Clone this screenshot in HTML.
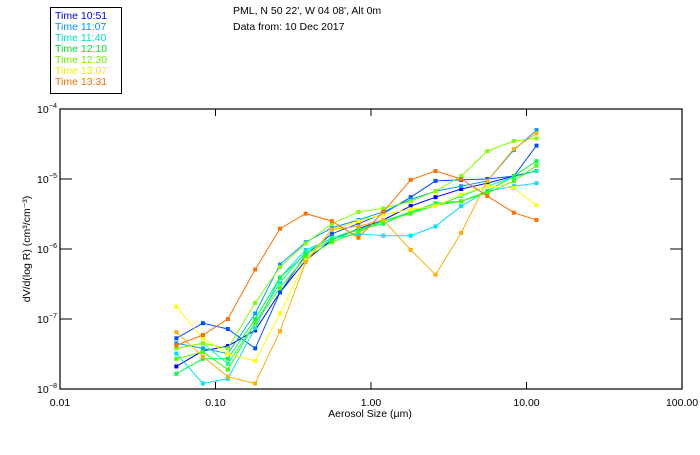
<!DOCTYPE html>
<html><head><meta charset="utf-8">
<style>
html,body{margin:0;padding:0;background:#fff;}
body{width:700px;height:450px;overflow:hidden;font-family:"Liberation Sans",sans-serif;}
svg text{font-family:"Liberation Sans",sans-serif;font-size:10.5px;}
</style></head>
<body>
<svg id="chart" width="700" height="450">
  <g>
    <rect x="50.5" y="7.5" width="71" height="86" fill="#fff" stroke="#000" stroke-width="1"/>
    <text x="55" y="19" fill="#0000ff">Time 10:51</text>
    <text x="55" y="30" fill="#0090ff">Time 11:07</text>
    <text x="55" y="41" fill="#00e0c0">Time 11:40</text>
    <text x="55" y="52" fill="#00e030">Time 12:10</text>
    <text x="55" y="63" fill="#70f000">Time 12:30</text>
    <text x="55" y="74" fill="#f0f000">Time 13:07</text>
    <text x="55" y="85" fill="#ff7000">Time 13:31</text>
  </g>
  <text x="233" y="14">PML, N 50 22', W 04 08', Alt 0m</text>
  <text x="233" y="30">Data from: 10 Dec 2017</text>
  <g id="axes"></g>
  <g id="series"></g>
  <text x="370" y="417" text-anchor="middle">Aerosol Size (μm)</text>
  <text transform="translate(30,249) rotate(-90)" text-anchor="middle">dV/d(log R) (cm³/cm⁻³)</text>
</svg>
<script>
const sizes = [0.056,0.083,0.12,0.18,0.26,0.38,0.56,0.83,1.2,1.8,2.6,3.8,5.6,8.3,11.6];
const colors = ["#0000ff","#0050ff","#00a0ff","#00e0ff","#00ffa0","#00ff40","#40ff00","#80ff00","#ffff00","#ffb000","#ff7000"];
const s0 = [2.1e-8,3.5e-8,4.1e-8,6.9e-8,2.4e-7,6.9e-7,1.35e-6,1.95e-6,2.6e-6,4.1e-6,5.5e-6,7.2e-6,8.7e-6,1.1e-5,1.3e-5];
const s1 = [5.3e-8,8.7e-8,7.2e-8,3.8e-8,2.4e-7,8.2e-7,1.65e-6,2.3e-6,3.2e-6,5.5e-6,9.4e-6,9.7e-6,1e-5,1.1e-5,3e-5];
const s2 = [4.5e-8,3.8e-8,3.2e-8,1.2e-7,6e-7,1.25e-6,2e-6,2.6e-6,3.4e-6,5.1e-6,6.7e-6,7.9e-6,9.4e-6,2.6e-5,5e-5];
const s3 = [3.2e-8,1.2e-8,1.4e-8,7.4e-8,3.9e-7,9.7e-7,1.4e-6,1.65e-6,1.55e-6,1.55e-6,2.1e-6,4.1e-6,6.7e-6,7.9e-6,8.7e-6];
const s4 = [3.8e-8,4.5e-8,2.3e-8,8.7e-8,3.3e-7,9e-7,1.45e-6,1.9e-6,2.5e-6,3.4e-6,4.1e-6,5.7e-6,7.9e-6,1.07e-5,1.3e-5];
const s5 = [1.65e-8,2.7e-8,2.7e-8,1e-7,3.9e-7,8.5e-7,1.35e-6,1.9e-6,2.3e-6,3.4e-6,4.5e-6,4.8e-6,6.7e-6,1.1e-5,1.8e-5];
const s6 = [2.7e-8,3.4e-8,1.9e-8,8.7e-8,2.8e-7,7.6e-7,1.25e-6,1.75e-6,2.5e-6,3.2e-6,4.2e-6,4.8e-6,6.3e-6,9.4e-6,1.55e-5];
const s7 = [3.8e-8,4.5e-8,3.8e-8,1.7e-7,5.5e-7,1.2e-6,2.3e-6,3.4e-6,3.8e-6,4.8e-6,6.7e-6,1.1e-5,2.5e-5,3.5e-5,3.8e-5];
const s8 = [1.5e-7,5.3e-8,3.2e-8,2.5e-8,1.2e-7,6.9e-7,1.9e-6,2.5e-6,3.1e-6,3.7e-6,4.1e-6,6e-6,7.9e-6,7.4e-6,4.2e-6];
const s9 = [6.5e-8,2.9e-8,1.5e-8,1.2e-8,6.7e-8,6.5e-7,1.9e-6,2.1e-6,2.6e-6,9.7e-7,4.3e-7,1.7e-6,9.4e-6,2.7e-5,4.5e-5];
const s10 = [4.2e-8,5.9e-8,1e-7,5.1e-7,1.95e-6,3.2e-6,2.5e-6,1.45e-6,3.4e-6,9.7e-6,1.3e-5,1e-5,5.7e-6,3.3e-6,2.6e-6];
const seriesList = [s0,s1,s2,s3,s4,s5,s6,s7,s8,s9,s10];
const xTickVals = [0.01,0.1,1,10,100];
const xTickLabels = ["0.01","0.10","1.00","10.00","100.00"];
const yTickExps = [-8,-7,-6,-5,-4];

const NS = "http://www.w3.org/2000/svg";
const L = 60, R = 682, T = 109, B = 389;
function xs(v){ return L + (Math.log10(v) + 2) / 4 * (R - L); }
function ys(v){ return B - (Math.log10(v) + 8) / 4 * (B - T); }
function mk(tag, attrs, parent){ const e = document.createElementNS(NS, tag); for (const k in attrs) e.setAttribute(k, attrs[k]); parent.appendChild(e); return e; }

const axes = document.getElementById('axes');
const frame = mk('rect', {x:L, y:T, width:R-L, height:B-T, fill:'none', stroke:'#000', 'stroke-width':1.2}, axes);


xTickVals.forEach((v, i) => {
  const x = xs(v);
  const t1 = mk('line', {x1:x, x2:x, y1:B, y2:B-7, stroke:'#000'}, axes);
  
  
  const t2 = mk('line', {x1:x, x2:x, y1:T, y2:T+7, stroke:'#000'}, axes);
  
  
  const lb = mk('text', {x:x, y:406, 'text-anchor':'middle'}, axes);
  lb.textContent = xTickLabels[i];
  
  
});
yTickExps.forEach(e => {
  const y = ys(Math.pow(10, e));
  const t1 = mk('line', {x1:L, x2:L+12, y1:y, y2:y, stroke:'#000'}, axes);
  
  
  const t2 = mk('line', {x1:R, x2:R-12, y1:y, y2:y, stroke:'#000'}, axes);
  
  
  const lb = mk('text', {x:37, y:y+4}, axes);
  lb.textContent = '10';
  
  
  const sp = mk('text', {x:49, y:y-1, style:'font-size:7px'}, axes);
  sp.textContent = String(e).replace('-', '−');
  
  
});

const sg = document.getElementById('series');
seriesList.forEach((vals, si) => {
  const c = colors[si];
  const pts = vals.map((v, i) => xs(sizes[i]).toFixed(1) + ',' + ys(v).toFixed(1)).join(' ');
  const pl = mk('polyline', {points:pts, fill:'none', stroke:c, 'stroke-width':1}, sg);
  
  
  vals.forEach((v, i) => {
    const r = mk('rect', {x:xs(sizes[i])-2, y:ys(v)-2, width:4, height:4, fill:c}, sg);
    
    
  });
});
</script>
</body></html>
